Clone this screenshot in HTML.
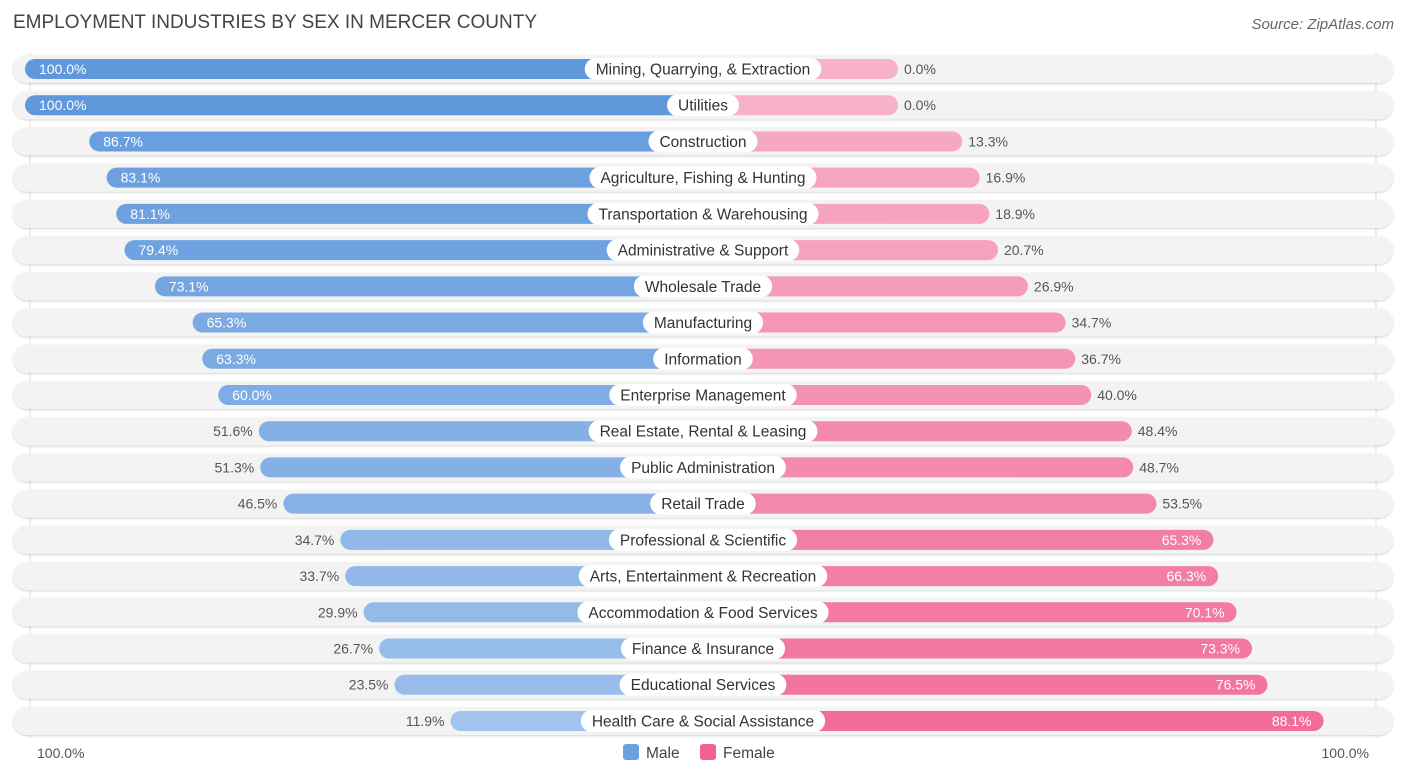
<!DOCTYPE html>
<html><head><meta charset="utf-8">
<style>
body{margin:0;background:#fff;font-family:"Liberation Sans",sans-serif;}
#wrap{position:relative;width:1406px;height:777px;overflow:hidden;}
.title{position:absolute;left:13px;top:12px;font-size:19px;color:#444;}
.src{position:absolute;right:12px;top:16px;font-size:15px;color:#666;font-style:italic;}
</style></head><body>
<div id="wrap">
<div class="title">EMPLOYMENT INDUSTRIES BY SEX IN MERCER COUNTY</div>
<div class="src">Source: ZipAtlas.com</div>
<svg id="svg" width="1406" height="777" style="position:absolute;left:0;top:0"></svg>
</div>
<script>
const categories=["Mining, Quarrying, & Extraction","Utilities","Construction","Agriculture, Fishing & Hunting","Transportation & Warehousing","Administrative & Support","Wholesale Trade","Manufacturing","Information","Enterprise Management","Real Estate, Rental & Leasing","Public Administration","Retail Trade","Professional & Scientific","Arts, Entertainment & Recreation","Accommodation & Food Services","Finance & Insurance","Educational Services","Health Care & Social Assistance"];
const maleValues=[100.0,100.0,86.7,83.1,81.1,79.4,73.1,65.3,63.3,60.0,51.6,51.3,46.5,34.7,33.7,29.9,26.7,23.5,11.9];
const femaleValues=[0.0,0.0,13.3,16.9,18.9,20.7,26.9,34.7,36.7,40.0,48.4,48.7,53.5,65.3,66.3,70.1,73.3,76.5,88.1];
const axisLabels=["100.0%","100.0%"];
const NS="http://www.w3.org/2000/svg";
const svg=document.getElementById('svg');
const cx=703,minLen=195,pxPer=4.83,y0=69,dy=36.22;
function len(v){return minLen+v*pxPer;}
function rowY(i){return y0+i*dy;}
function mix(a,b,t){return '#'+[0,1,2].map(k=>{const x=Math.round(a[k]+(b[k]-a[k])*t);return x.toString(16).padStart(2,'0');}).join('');}
function mk(tag,attrs,parent){const e=document.createElementNS(NS,tag);for(const k in attrs)e.setAttribute(k,attrs[k]);(parent||svg).appendChild(e);return e;}
const defs=mk('defs',{});
defs.innerHTML='<filter id="sh" x="-5%" y="-30%" width="110%" height="160%"><feDropShadow dx="0" dy="1" stdDeviation="1" flood-color="#000" flood-opacity="0.18"/></filter>';
mk('line',{x1:30,y1:52,x2:30,y2:738,stroke:'#ddd','stroke-width':1});
mk('line',{x1:1376,y1:52,x2:1376,y2:738,stroke:'#ddd','stroke-width':1});
categories.forEach((c,i)=>{
  const y=rowY(i);
  const g=mk('g',{});
  
  
  const bg=mk('rect',{x:13,y:y-14,width:1380,height:28,rx:14,fill:'#f3f3f3',filter:'url(#sh)'},g);
  
  
  const m=maleValues[i],f=femaleValues[i];
  const ml=len(m),fl=len(f);
  const mb=mk('rect',{x:cx-ml,y:y-10,width:ml,height:20,rx:10,fill:mix([170,201,239],[96,152,220],m/100)},g);
  
  
  const fb=mk('rect',{x:cx,y:y-10,width:fl,height:20,rx:10,fill:mix([247,178,202],[240,98,146],f/100)},g);
  
  
  // male value
  let t;
  if(m>55){t=mk('text',{x:cx-ml+14,y:y+5,'font-size':14,fill:'#fff'},g);}
  else{t=mk('text',{x:cx-ml-6,y:y+5,'font-size':14,fill:'#555','text-anchor':'end'},g);}
  t.textContent=m.toFixed(1)+'%';
  
  
  let t2;
  if(f>60){t2=mk('text',{x:cx+fl-12,y:y+5,'font-size':14,fill:'#fff','text-anchor':'end'},g);}
  else{t2=mk('text',{x:cx+fl+6,y:y+5,'font-size':14,fill:'#555'},g);}
  t2.textContent=f.toFixed(1)+'%';
  
  
  // category label
  const lt=mk('text',{x:cx,y:y+5.5,'font-size':15.5,fill:'#333','text-anchor':'middle'},g);
  lt.textContent=c;
  const w=lt.getComputedTextLength()+22;
  const lb=mk('rect',{x:cx-w/2,y:y-11,width:w,height:22,rx:11,fill:'#fff'},g);
  g.insertBefore(lb,lt);
  
  
  
  
});
const al=mk('text',{x:37,y:758,'font-size':14,fill:'#555'});
al.textContent=axisLabels[0];


const ar=mk('text',{x:1369,y:758,'font-size':14,fill:'#555','text-anchor':'end'});
ar.textContent=axisLabels[1];


const lg=mk('g',{});


const r1=mk('rect',{x:623,y:744,width:16,height:16,rx:3,fill:'#6a9fe0'},lg);


const l1=mk('text',{x:646,y:758,'font-size':15.5,fill:'#444'},lg);l1.textContent='Male';


const r2=mk('rect',{x:700,y:744,width:16,height:16,rx:3,fill:'#f06292'},lg);


const l2=mk('text',{x:723,y:758,'font-size':15.5,fill:'#444'},lg);l2.textContent='Female';


</script>
</body></html>
